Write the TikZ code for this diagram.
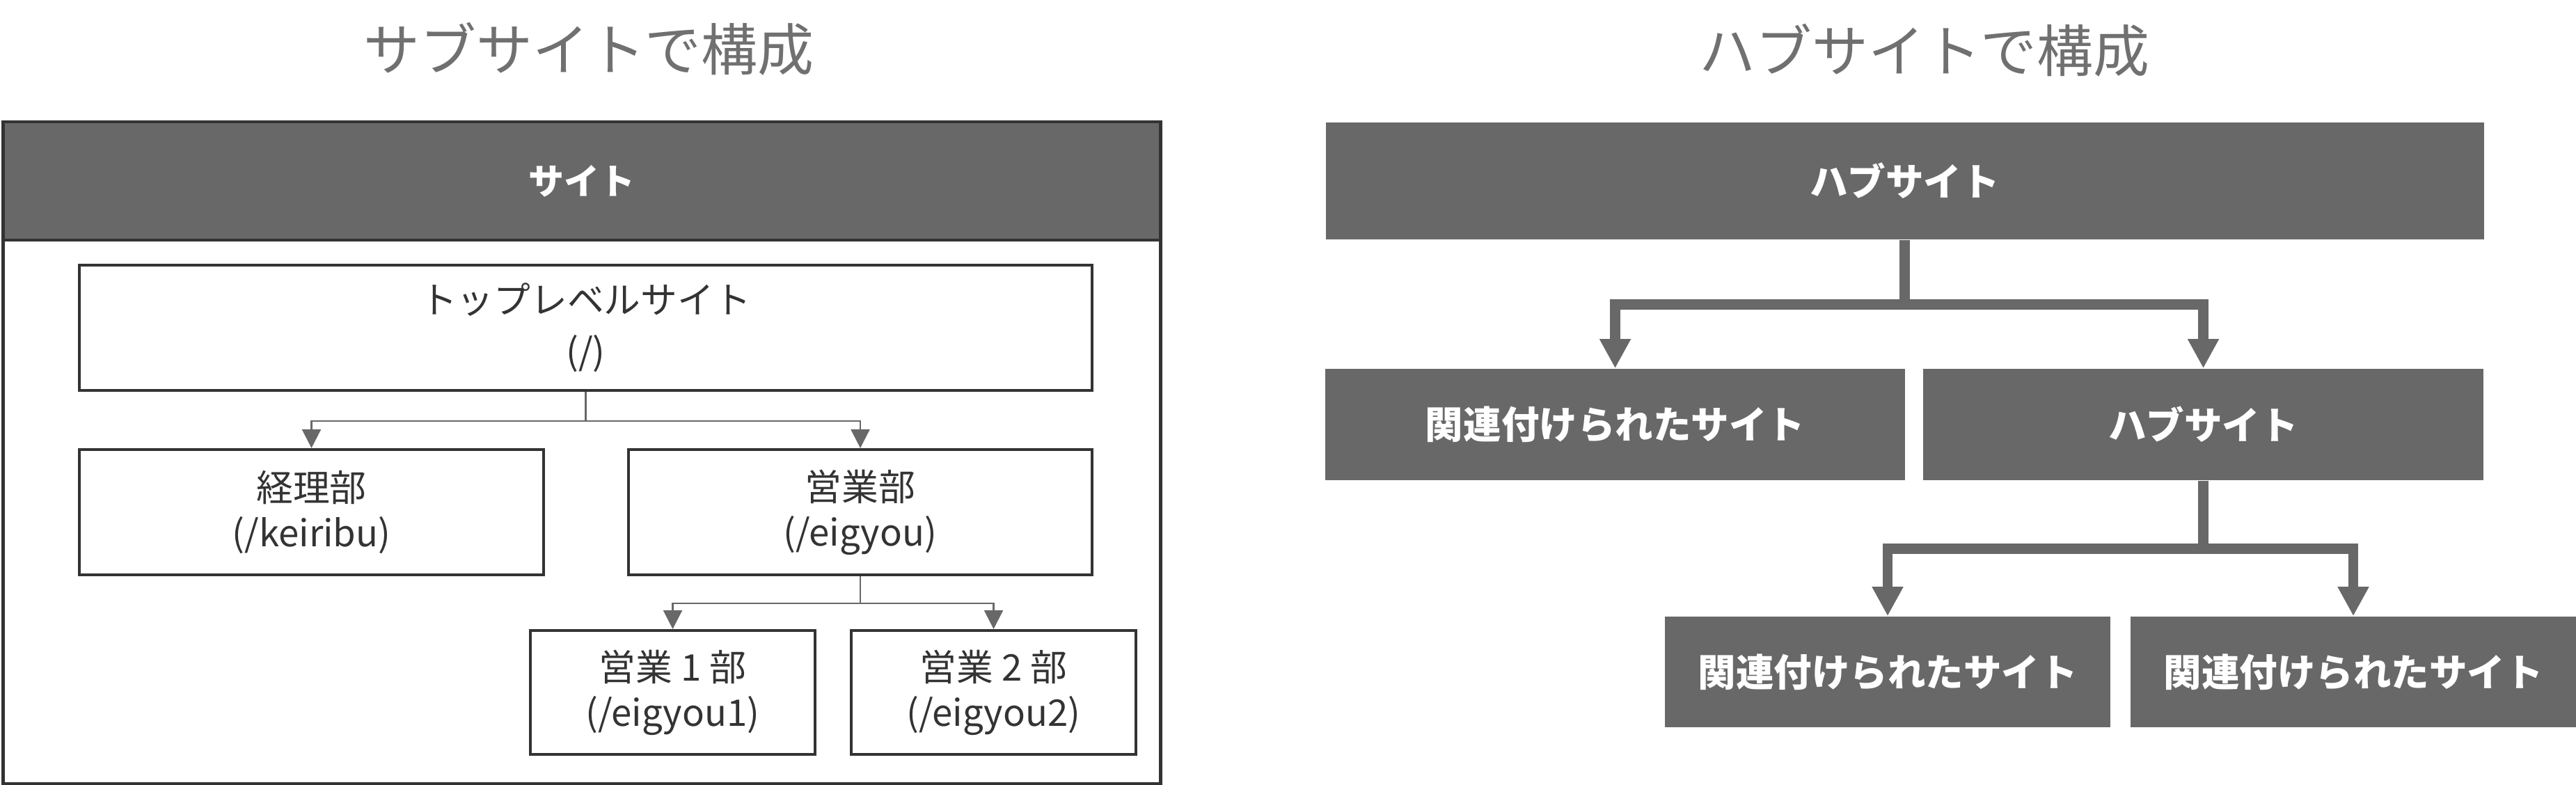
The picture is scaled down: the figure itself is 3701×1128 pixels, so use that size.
\documentclass[tikz,border=0pt]{standalone}
\usepackage{fontspec}
\setmainfont{Noto Sans CJK JP}
\usetikzlibrary{arrows.meta}
\definecolor{boxgray}{HTML}{686868}
\definecolor{framedark}{HTML}{333333}
\definecolor{titlegray}{HTML}{707070}

\begin{document}
\begin{tikzpicture}[x=0.01cm, y=-0.01cm,
  heading/.style={text=titlegray, font=\fontsize{23}{27}\selectfont, inner sep=0pt},
  subbox/.style={draw=framedark, line width=1.15pt, fill=white, text=framedark, align=center, font=\fontsize{15}{18.5}\selectfont, inner sep=0pt},
  hubbox/.style={fill=boxgray, text=white, align=center, font=\bfseries\fontsize{15.5}{18}\selectfont, inner sep=0pt},
  subarrow/.style={draw=boxgray, line width=0.7pt, -{Triangle[length=0.27cm,width=0.27cm]}},
  hubarrow/.style={draw=boxgray, line width=4.2pt, -{Triangle[length=0.42cm,width=0.42cm]}}]
\useasboundingbox (0,0) rectangle (3701,1128);
% Titles
\node[heading] (t1) at (846,70) {サブサイトで構成};
\node[heading] (t2) at (2765,72) {ハブサイトで構成};
% Sub sites
\node[subbox, minimum width=16.62cm, minimum height=9.51cm] (frame) at (836,650.5) {};
\node[hubbox, draw=framedark, line width=1.15pt, minimum width=16.62cm, minimum height=1.70cm, font=\bfseries\fontsize{14.5}{17}\selectfont] (site) at (836,260) {サイト};
\node[subbox, minimum width=14.55cm, minimum height=1.80cm, font=\fontsize{15}{21}\selectfont] (top) at (841.5,471) {トップレベルサイト\\(/)};
\node[subbox, minimum width=6.67cm, minimum height=1.80cm] (keiri) at (447.5,736) {経理部\\(/keiribu)};
\node[subbox, minimum width=6.66cm, minimum height=1.80cm] (eigyo) at (1236,736) {営業部\\(/eigyou)};
\node[subbox, minimum width=4.09cm, minimum height=1.78cm] (eigyo1) at (966.5,995) {営業 1 部\\(/eigyou1)};
\node[subbox, minimum width=4.09cm, minimum height=1.78cm] (eigyo2) at (1427.5,995) {営業 2 部\\(/eigyou2)};
% Hub sites
\node[hubbox, minimum width=16.63cm, minimum height=1.68cm] (hub) at (2736.5,260) {ハブサイト};
\node[hubbox, minimum width=8.33cm, minimum height=1.60cm] (rel1) at (2320.5,610) {関連付けられたサイト};
\node[hubbox, minimum width=8.05cm, minimum height=1.60cm] (hub2) at (3165.5,610) {ハブサイト};
\node[hubbox, minimum width=6.40cm, minimum height=1.59cm] (rel2) at (2712,965.5) {関連付けられたサイト};
\node[hubbox, minimum width=6.40cm, minimum height=1.59cm] (rel3) at (3381,965.5) {関連付けられたサイト};
% Arrows
\draw[subarrow] (top.south) -- ++(0,42) -| (keiri.north);
\draw[subarrow] (top.south) -- ++(0,42) -| (eigyo.north);
\draw[subarrow] (eigyo.south) -- ++(0,39) -| (eigyo1.north);
\draw[subarrow] (eigyo.south) -- ++(0,39) -| (eigyo2.north);
\draw[hubarrow] (hub.south) -- ++(0,93) -| (rel1.north);
\draw[hubarrow] (hub.south) -- ++(0,93) -| (hub2.north);
\draw[hubarrow] (hub2.south) -- ++(0,98) -| (rel2.north);
\draw[hubarrow] (hub2.south) -- ++(0,98) -| (rel3.north);
\end{tikzpicture}
\end{document}
